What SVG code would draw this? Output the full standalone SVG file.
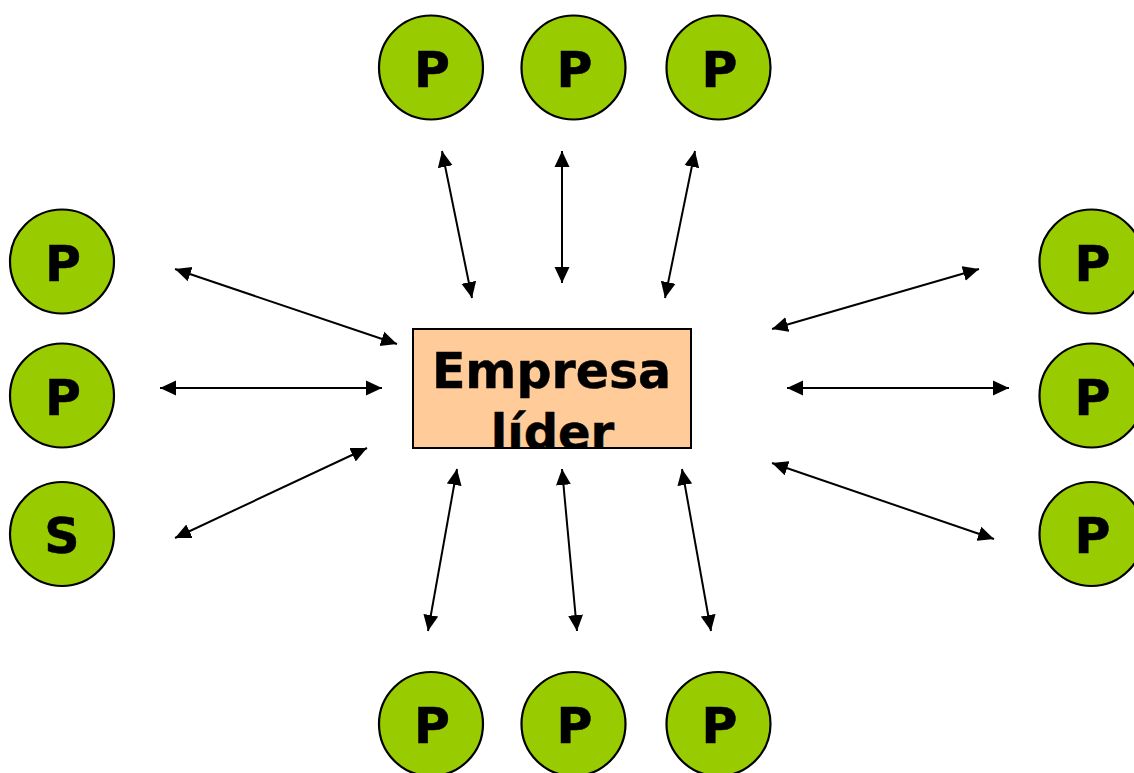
<svg xmlns="http://www.w3.org/2000/svg" width="1134" height="773" viewBox="0 0 1134 773">
<style>
.n{fill:#99cc00;stroke:#000;stroke-width:2.2}
.t{font-family:"DejaVu Sans",Verdana,sans-serif;font-weight:bold;font-size:49px;fill:#000;stroke:#000;stroke-width:0.5;text-anchor:middle}
.c line{stroke:#000;stroke-width:2;marker-start:url(#a);marker-end:url(#a)}
</style>
<defs><marker id="a" markerUnits="userSpaceOnUse" markerWidth="16" markerHeight="16" refX="16" refY="8" orient="auto-start-reverse"><path d="M0 0.500L16 8L0 15.500Z" fill="#000"/></marker>
<clipPath id="k"><rect x="413" y="329" width="278" height="118"/></clipPath></defs>
<rect width="1134" height="773" fill="#fff"/>
<g id="connectors" class="c">
<line x1="442" y1="151" x2="472" y2="298"/>
<line x1="562" y1="151" x2="562" y2="283"/>
<line x1="695" y1="151" x2="665" y2="298"/>
<line x1="175" y1="269" x2="397" y2="344"/>
<line x1="160" y1="388" x2="382" y2="388"/>
<line x1="175" y1="538" x2="367" y2="448"/>
<line x1="979" y1="269" x2="772" y2="329"/>
<line x1="1009" y1="388" x2="787" y2="388"/>
<line x1="994" y1="539" x2="772" y2="463"/>
<line x1="457" y1="469" x2="428" y2="631"/>
<line x1="562" y1="469" x2="577" y2="631"/>
<line x1="682" y1="469" x2="711" y2="631"/>
</g>
<g id="leader"><rect x="413" y="329" width="278" height="119" fill="#ffcc99" stroke="#000" stroke-width="2"/>
<text class="t" x="551.500" y="388">Empresa</text>
<text class="t" x="552.500" y="449" clip-path="url(#k)" style="font-size:48px">líder</text></g>
<g id="p1"><circle class="n" cx="431" cy="67.500" r="52"/><text class="t" x="432" y="87">P</text></g>
<g id="p2"><circle class="n" cx="573.500" cy="67.500" r="52"/><text class="t" x="574.500" y="87">P</text></g>
<g id="p3"><circle class="n" cx="718.500" cy="67.500" r="52"/><text class="t" x="719.500" y="87">P</text></g>
<g id="p4"><circle class="n" cx="62" cy="261.500" r="52"/><text class="t" x="63" y="281">P</text></g>
<g id="p5"><circle class="n" cx="62" cy="395.500" r="52"/><text class="t" x="63" y="415">P</text></g>
<g id="s1"><circle class="n" cx="62" cy="534" r="52"/><text class="t" x="62" y="553">S</text></g>
<g id="p6"><circle class="n" cx="1091.500" cy="261.500" r="52"/><text class="t" x="1092.500" y="281">P</text></g>
<g id="p7"><circle class="n" cx="1091.500" cy="395.500" r="52"/><text class="t" x="1092.500" y="415">P</text></g>
<g id="p8"><circle class="n" cx="1091.500" cy="534" r="52"/><text class="t" x="1092.500" y="553">P</text></g>
<g id="p9"><circle class="n" cx="431" cy="724" r="52"/><text class="t" x="432" y="743">P</text></g>
<g id="p10"><circle class="n" cx="573.500" cy="724" r="52"/><text class="t" x="574.500" y="743">P</text></g>
<g id="p11"><circle class="n" cx="718.500" cy="724" r="52"/><text class="t" x="719.500" y="743">P</text></g>
</svg>
